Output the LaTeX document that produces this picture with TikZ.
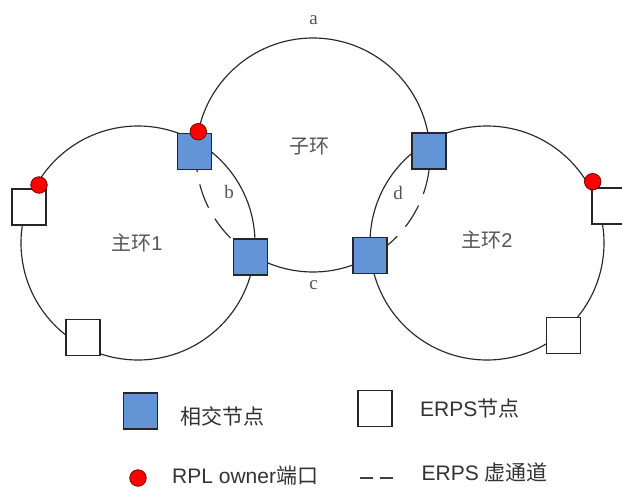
\documentclass[tikz,border=0pt]{standalone}
\usepackage{fontspec}
\setmainfont{Liberation Sans}
\newfontfamily\cjk{Noto Sans CJK SC}
\newfontfamily\tms{Liberation Serif}
\usetikzlibrary{calc}
\definecolor{nodeblue}{RGB}{99,149,214}
\definecolor{ringline}{RGB}{40,40,40}
\definecolor{rplred}{RGB}{255,0,0}
\definecolor{rplrim}{RGB}{110,0,0}
\definecolor{labelgray}{RGB}{85,85,85}
\tikzset{
  ring/.style={draw=ringline, line width=1.15pt},
  vlink/.style={ring, dash pattern=on 25pt off 12.5pt},
  crossnode/.style={draw=black!85, line width=1.5pt, fill=nodeblue,
    minimum width=34pt, minimum height=36pt, inner sep=0pt},
  erpsnode/.style={crossnode, fill=white},
  rpl/.style={circle, draw=rplrim, line width=0.8pt, fill=rplred,
    minimum size=16.5pt, inner sep=0pt},
  seglabel/.style={font=\tms\fontsize{19}{22}\selectfont, text=labelgray, inner sep=0pt},
  ringlabel/.style={font=\fontsize{20}{24}\selectfont, text=labelgray, inner sep=0pt},
  legendtext/.style={font=\fontsize{21}{25}\selectfont, text=black!80, anchor=west, inner sep=0pt},
}
\begin{document}
\begin{tikzpicture}[x=1pt,y=-1pt]
\useasboundingbox (0,0) rectangle (622,490);

% ring centres
\coordinate (c1) at (138,243);
\coordinate (c2) at (313,155);
\coordinate (c3) at (487,243);

% main rings
\draw[ring] (c1) circle[radius=117];
\draw[ring] (c3) circle[radius=117];

% sub-ring, split where it meets the main rings
\coordinate (xa) at ($(c2)+(186.5:117)$);
\coordinate (xb) at ($(c2)+(120.2:117)$);
\coordinate (xc) at ($(c2)+(59.8:117)$);
\coordinate (xd) at ($(c2)+(-6.5:117)$);
\draw[ring] (xa) arc[start angle=186.5, end angle=353.5, radius=117];
\draw[ring] (xc) arc[start angle=59.8, end angle=120.2, radius=117];
% virtual channels inside the main rings
\draw[vlink, dash phase=7.6pt] (xb) arc[start angle=120.2, end angle=186.5, radius=117];
\draw[vlink, dash phase=9.5pt] (xd) arc[start angle=-6.5, end angle=59.8, radius=117];

% interconnection nodes
\node[crossnode] (b1) at (194.3,151.5) {};
\node[crossnode] (b2) at (250.5,257) {};
\node[crossnode] (b3) at (429,151) {};
\node[crossnode] (b4) at (370,255.5) {};

% ERPS nodes
\node[erpsnode] (w1) at (28.8,207) {};
\node[erpsnode] (w2) at (82.8,337.7) {};
\node[erpsnode] (w3) at (609,206) {};
\node[erpsnode] (w4) at (563.7,335.7) {};

% RPL owner ports
\node[rpl] (r1) at (198.3,131.7) {};
\node[rpl] (r2) at (39,185) {};
\node[rpl] (r3) at (592.7,181.7) {};

% segment and ring labels
\node[seglabel] (la) at (313.5,20) {a};
\node[seglabel] (lb) at (229,192) {b};
\node[seglabel] (lc) at (313.5,285) {c};
\node[seglabel] (ld) at (398,193) {d};
\node[ringlabel] (sub) at (309,147) {\cjk 子环};
\node[ringlabel] (m1) at (137,243) {{\cjk 主环}1};
\node[ringlabel] (m2) at (487,240) {{\cjk 主环}2};

% legend
\node[crossnode] (kb) at (140.5,411) {};
\node[legendtext] (kbt) at (180,416) {\cjk 相交节点};
\node[erpsnode] (kw) at (375,408.3) {};
\node[legendtext] (kwt) at (420,409) {ERPS{\cjk 节点}};
\node[rpl] (kr) at (138,478) {};
\node[legendtext] (krt) at (172,476) {RPL owner{\cjk 端口}};
\coordinate (kd0) at (360,478);
\coordinate (kd1) at (393,478);
\draw[draw=black!75, line width=1.8pt, dash pattern=on 13pt off 7pt] (kd0) -- (kd1);
\node[legendtext] (kdt) at (421.5,472) {ERPS {\cjk 虚通道}};
\end{tikzpicture}
\end{document}
